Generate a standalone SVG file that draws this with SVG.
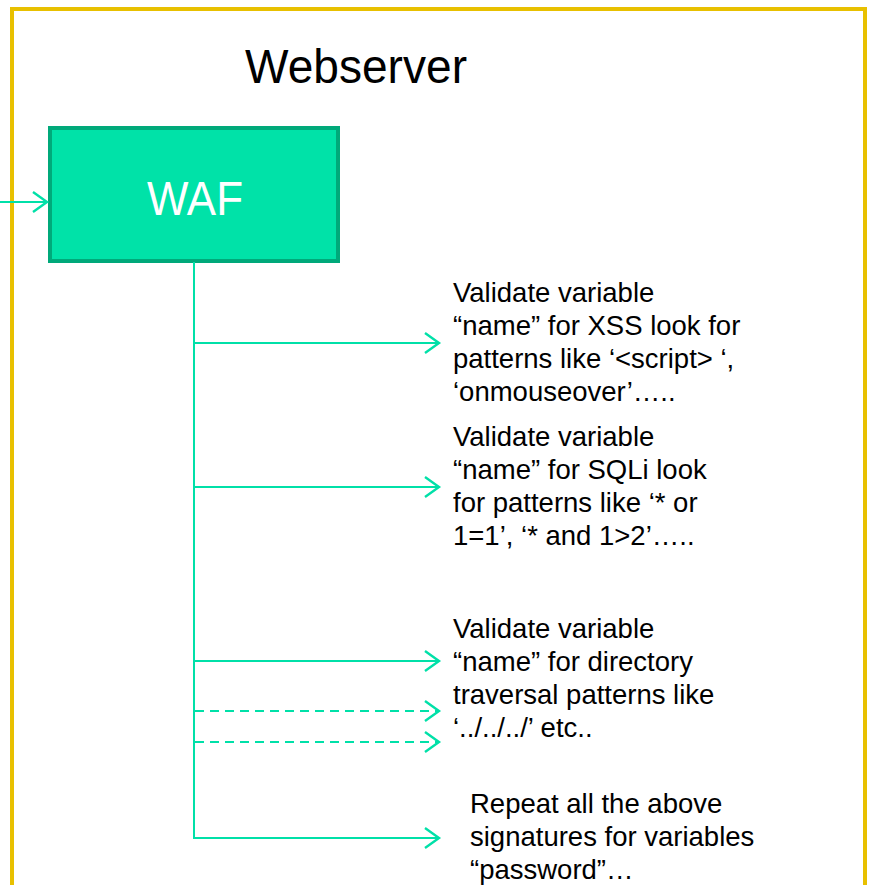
<svg xmlns="http://www.w3.org/2000/svg" width="869" height="885" viewBox="0 0 869 885">
<style>
.t{font-family:"Liberation Sans",Arial,sans-serif;font-size:27.5px;fill:#000}
.c{stroke:#00E0A8;stroke-width:2;fill:none}
.d{stroke-dasharray:9 6}
</style>
<defs>
<marker id="ah" markerUnits="userSpaceOnUse" markerWidth="20" markerHeight="24" refX="15" refY="11" orient="auto">
<path d="M1,1 L15,11 L1,21" fill="none" stroke="#00E0A8" stroke-width="2.4"/>
</marker>
</defs>
<rect width="869" height="885" fill="#fff"/>
<g id="webserver">
<rect x="12" y="9" width="853" height="880" fill="none" stroke="#E8C000" stroke-width="4"/>
<text x="245" y="83" font-family="Liberation Sans,Arial,sans-serif" font-size="48" textLength="222" lengthAdjust="spacingAndGlyphs">Webserver</text>
</g>
<g id="waf">
<rect x="50" y="128" width="288" height="133" fill="#00E2A8" stroke="#00A97A" stroke-width="4"/>
<text x="147" y="215" font-family="Liberation Sans,Arial,sans-serif" font-size="48" fill="#fff" textLength="96" lengthAdjust="spacingAndGlyphs">WAF</text>
</g>
<g id="connectors">
<line class="c" x1="0" y1="202" x2="47" y2="202" marker-end="url(#ah)"/>
<line class="c" x1="194" y1="262" x2="194" y2="839"/>
<line class="c" x1="193" y1="343" x2="439" y2="343" marker-end="url(#ah)"/>
<line class="c" x1="193" y1="487" x2="439" y2="487" marker-end="url(#ah)"/>
<line class="c" x1="193" y1="661" x2="439" y2="661" marker-end="url(#ah)"/>
<line class="c d" x1="195" y1="711" x2="439" y2="711" marker-end="url(#ah)"/>
<line class="c d" x1="195" y1="742" x2="439" y2="742" marker-end="url(#ah)"/>
<line class="c" x1="193" y1="838" x2="439" y2="838" marker-end="url(#ah)"/>
</g>
<g id="xss">
<text class="t" x="453" y="302">Validate variable</text>
<text class="t" x="453" y="335">“name” for XSS look for</text>
<text class="t" x="453" y="368">patterns like ‘&lt;script&gt; ‘,</text>
<text class="t" x="453" y="401">‘onmouseover’…..</text>
</g>
<g id="sqli">
<text class="t" x="453" y="446">Validate variable</text>
<text class="t" x="453" y="479">“name” for SQLi look</text>
<text class="t" x="453" y="512">for patterns like ‘* or</text>
<text class="t" x="453" y="545">1=1’, ‘* and 1&gt;2’…..</text>
</g>
<g id="traversal">
<text class="t" x="453" y="638">Validate variable</text>
<text class="t" x="453" y="671">“name” for directory</text>
<text class="t" x="453" y="704">traversal patterns like</text>
<text class="t" x="453" y="737">‘../../../’ etc..</text>
</g>
<g id="repeat">
<text class="t" x="470" y="813">Repeat all the above</text>
<text class="t" x="470" y="846">signatures for variables</text>
<text class="t" x="470" y="879">“password”…</text>
</g>
</svg>
